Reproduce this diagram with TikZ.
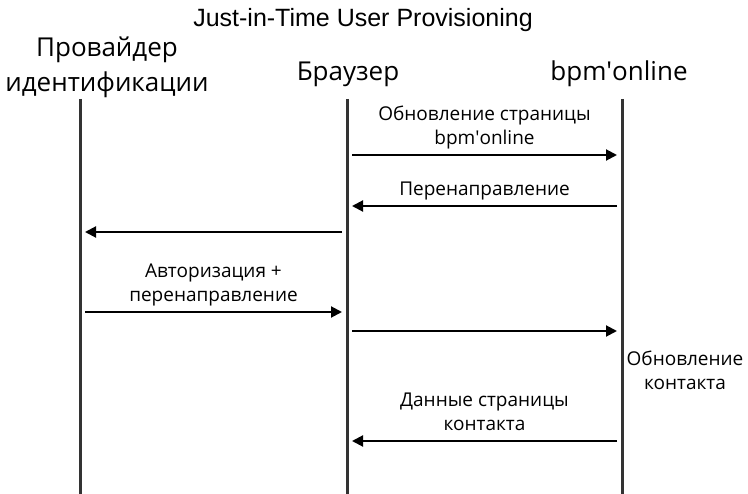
\documentclass[tikz,border=0pt]{standalone}
\usepackage{fontspec}
\setmainfont{Open Sans}
\newfontfamily\titlefont{Liberation Sans}
\usetikzlibrary{arrows.meta,positioning}
\definecolor{lifegray}{HTML}{333333}
\newcommand{\bpmname}{bpm\textquotesingle online}
\tikzset{
  lifeline/.style={draw=lifegray, line width=3pt},
  msgarrow/.style={
    -{Triangle[length=11pt,width=11pt]}, line width=2pt,
    shorten <=5pt, shorten >=5pt
  },
  msglabel/.style={font=\fontsize{19}{24}\selectfont, align=center,
    inner sep=0pt, text depth=0pt},
  actor/.style={font=\fontsize{26}{35}\selectfont, align=center,
    inner sep=0pt, text depth=0pt},
}

\begin{document}
\begin{tikzpicture}[x=1pt, y=-1pt]
\useasboundingbox (0,0) rectangle (748,494);
\node[font=\titlefont\fontsize{25}{30}\selectfont, anchor=base] (title) at (363,27)
  {Just-in-Time User Provisioning};
% actors
\node[actor, anchor=south] (idp) at (107,92) {Провайдер\\идентификации};
\node[actor, anchor=south] (br) at (348,81) {Браузер};
\node[actor, anchor=south] (bpm) at (619,81) {\bpmname};
% lifelines
\coordinate (idpL) at (80,99);
\coordinate (brL) at (347,99);
\coordinate (bpmL) at (622,99);
\coordinate (bottom) at (0,494);
\draw[lifeline] (idpL) -- (idpL |- bottom);
\draw[lifeline] (brL) -- (brL |- bottom);
\draw[lifeline] (bpmL) -- (bpmL |- bottom);
% messages
\coordinate (m1) at (0,155);
\coordinate (m2) at (0,206);
\coordinate (m3) at (0,232);
\coordinate (m4) at (0,312);
\coordinate (m5) at (0,331);
\coordinate (m6) at (0,441);
\draw[msgarrow] (brL |- m1) -- node[msglabel, above=9.5pt] {Обновление страницы\\\bpmname} (bpmL |- m1);
\draw[msgarrow] (bpmL |- m2) -- node[msglabel, above=9.5pt] {Перенаправление} (brL |- m2);
\draw[msgarrow] (brL |- m3) -- (idpL |- m3);
\draw[msgarrow] (idpL |- m4) -- node[msglabel, above=9.5pt] {Авторизация +\\перенаправление} (brL |- m4);
\draw[msgarrow] (brL |- m5) -- (bpmL |- m5);
\draw[msgarrow] (bpmL |- m6) -- node[msglabel, above=9.5pt] {Данные страницы\\контакта} (brL |- m6);
\node[msglabel, anchor=south] (update) at (685,390) {Обновление\\контакта};
\end{tikzpicture}
\end{document}
